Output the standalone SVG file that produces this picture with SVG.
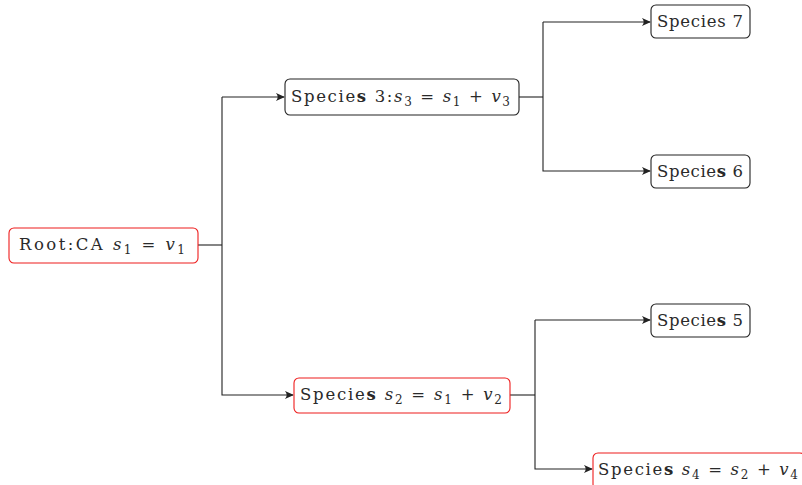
<svg xmlns="http://www.w3.org/2000/svg" width="802" height="485" viewBox="0 0 802 485">
  <style>
    .box { fill: #ffffff; stroke-width: 1.1; }
    .blk { stroke: #222222; }
    .red { stroke: #ee1c1c; }
    text { font-family: "DejaVu Serif", "Liberation Serif", serif; font-size: 16.5px; fill: #2a2a2a; }
    .m { font-style: italic; }
    .sub { font-size: 12px; }
    .b { font-weight: bold; }
    .edge { fill: none; stroke: #222222; stroke-width: 1.1; }
  </style>
  <defs>
    <marker id="arr" viewBox="0 0 10 10" refX="9" refY="5" markerWidth="10" markerHeight="9" markerUnits="userSpaceOnUse" orient="auto">
      <path d="M0,0.5 Q4,5 0,9.5 L10,5 Z" fill="#222222"/>
    </marker>
  </defs>

  <!-- tree connectors -->
  <g id="connectors">
    <path class="edge" d="M198,245 H222"/>
    <path class="edge" d="M222,97 V395 H293" marker-end="url(#arr)"/>
    <path class="edge" d="M222,97 H284" marker-end="url(#arr)"/>
    <path class="edge" d="M519,97 H543"/>
    <path class="edge" d="M543,22 V171 H650" marker-end="url(#arr)"/>
    <path class="edge" d="M543,22 H650" marker-end="url(#arr)"/>
    <path class="edge" d="M510,395 H535"/>
    <path class="edge" d="M535,320 V469 H592" marker-end="url(#arr)"/>
    <path class="edge" d="M535,320 H650" marker-end="url(#arr)"/>
  </g>

  <g id="root">
    <rect class="box red" x="9" y="228" width="189" height="35" rx="5"/>
    <text x="19" y="250" textLength="166" lengthAdjust="spacing">Root:CA <tspan class="m">s</tspan><tspan class="sub" dy="4">1</tspan><tspan dy="-4"> = </tspan><tspan class="m">v</tspan><tspan class="sub" dy="4">1</tspan></text>
  </g>

  <g id="species3">
    <rect class="box blk" x="285" y="79" width="234" height="36" rx="5"/>
    <text x="291" y="102" textLength="219" lengthAdjust="spacing">Specie<tspan class="b">s</tspan> 3:<tspan class="m">s</tspan><tspan class="sub" dy="4">3</tspan><tspan dy="-4"> = </tspan><tspan class="m">s</tspan><tspan class="sub" dy="4">1</tspan><tspan dy="-4"> + </tspan><tspan class="m">v</tspan><tspan class="sub" dy="4">3</tspan></text>
  </g>

  <g id="species2">
    <rect class="box red" x="294" y="378" width="216" height="35" rx="5"/>
    <text x="300" y="400" textLength="202" lengthAdjust="spacing">Specie<tspan class="b">s</tspan> <tspan class="m">s</tspan><tspan class="sub" dy="4">2</tspan><tspan dy="-4"> = </tspan><tspan class="m">s</tspan><tspan class="sub" dy="4">1</tspan><tspan dy="-4"> + </tspan><tspan class="m">v</tspan><tspan class="sub" dy="4">2</tspan></text>
  </g>

  <g id="species7">
    <rect class="box blk" x="651" y="5" width="99" height="33" rx="5"/>
    <text x="657" y="27" textLength="86" lengthAdjust="spacing">Species 7</text>
  </g>

  <g id="species6">
    <rect class="box blk" x="651" y="155" width="99" height="33" rx="5"/>
    <text x="657" y="177" textLength="86" lengthAdjust="spacing">Specie<tspan class="b">s</tspan> 6</text>
  </g>

  <g id="species5">
    <rect class="box blk" x="651" y="304" width="99" height="33" rx="5"/>
    <text x="657" y="326" textLength="86" lengthAdjust="spacing">Specie<tspan class="b">s</tspan> 5</text>
  </g>

  <g id="species4">
    <rect class="box red" x="593" y="453" width="212" height="36" rx="5"/>
    <text x="598" y="475" textLength="200" lengthAdjust="spacing">Specie<tspan class="b">s</tspan> <tspan class="m">s</tspan><tspan class="sub" dy="4">4</tspan><tspan dy="-4"> = </tspan><tspan class="m">s</tspan><tspan class="sub" dy="4">2</tspan><tspan dy="-4"> + </tspan><tspan class="m">v</tspan><tspan class="sub" dy="4">4</tspan></text>
  </g>
</svg>
